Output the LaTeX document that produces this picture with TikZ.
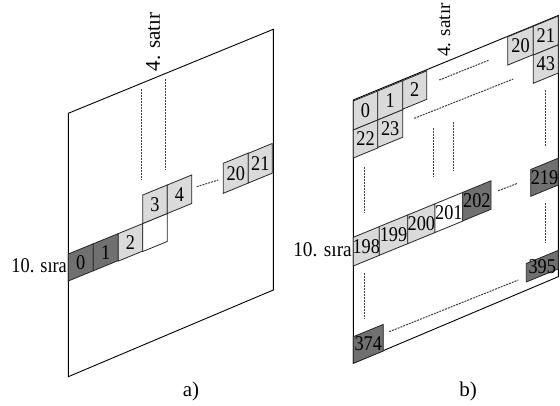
\documentclass[tikz,border=0pt]{standalone}
\usepackage{fontspec}
\setmainfont{Liberation Serif}
\definecolor{darkcell}{RGB}{112,112,112}
\definecolor{lightcell}{RGB}{218,218,218}
\newcommand{\sqz}[1]{\scalebox{0.87}[1]{#1}}
\tikzset{
  frameline/.style={line width=0.9pt, draw=black},
  cellbox/.style={line width=0.8pt, draw=black!85},
  celltxt/.style={inner sep=0pt, font=\fontsize{21}{21}\selectfont},
  lbl/.style={inner sep=0pt, font=\fontsize{21}{21}\selectfont},
  dotline/.style={line width=1pt, draw=black!75, dash pattern=on 2pt off 1pt},
}
% name, x, y (top-left), width, height, fill, text
\newcommand{\pcell}[7]{%
  \filldraw[cellbox, fill=#6] (#2,#3) -- ++(#4,{-0.41*#4}) -- ++(0,#5) -- ++({-#4},{0.41*#4}) -- cycle;
  \node[celltxt] (#1) at ({#2+#4/2},{#3-0.205*#4+#5/2}) {\sqz{#7}};
}
\begin{document}
\begin{tikzpicture}[x=1pt,y=-1pt]
\useasboundingbox[fill=white] (0,0) rectangle (560,406);
% ---------------- panel a ----------------
\draw[frameline] (68.3,113.3) -- (273.3,29.3) -- (273.3,290) -- (68.3,376.7) -- cycle;
\pcell{a0}{68.3}{254}{25}{27}{darkcell}{0}
\pcell{a1}{93.3}{243.8}{25}{27}{darkcell}{1}
\pcell{a2}{118.3}{233.6}{24.5}{27.5}{lightcell}{2}
\pcell{aE}{142.8}{223.5}{24.5}{28}{white}{}
\pcell{a3}{142.8}{195}{24.5}{28.5}{lightcell}{3}
\pcell{a4}{167.3}{185}{24.5}{28.5}{lightcell}{4}
\pcell{a20}{223.3}{163.3}{25}{30}{lightcell}{20}
\pcell{a21}{248.3}{153.3}{24}{29.7}{lightcell}{21}
\draw[dotline] (141.7,89) -- (141.7,180);
\draw[dotline] (165,79) -- (165,170);
\draw[dotline] (196.7,186.7) -- (218.3,180);
\node[lbl, rotate=90] (satirA) at (153,42) {4. satır};
\node[lbl, anchor=base east] (siraA) at (67,273) {\sqz{10. sıra}};
\node[lbl, anchor=base] (capA) at (191,396) {a)};
% ---------------- panel b ----------------
\draw[frameline] (353.3,100) -- (558.3,15.5) -- (558.3,276.7) -- (353.3,363.3) -- cycle;
\pcell{b0}{353.3}{101}{24.4}{29}{lightcell}{0}
\pcell{b1}{377.7}{91}{25}{29}{lightcell}{1}
\pcell{b2}{402.7}{80.7}{24}{28.5}{lightcell}{2}
\pcell{b22}{353.3}{130}{24.4}{28}{lightcell}{22}
\pcell{b23}{377.7}{120}{25}{27.5}{lightcell}{23}
\pcell{b20}{507.7}{36.8}{25.6}{28.3}{lightcell}{20}
\pcell{b21}{533.3}{26.3}{25}{28.8}{lightcell}{21}
\pcell{b43}{533.3}{55.1}{25}{28.2}{lightcell}{43}
\pcell{b198}{353.3}{237.3}{26}{28.7}{lightcell}{198}
\pcell{b199}{379.3}{226.6}{28.4}{28.7}{lightcell}{199}
\pcell{b200}{407.7}{215}{27.3}{28.7}{lightcell}{200}
\pcell{b201}{435}{203.8}{27.7}{28.7}{white}{201}
\pcell{b202}{462.7}{192.4}{28.3}{28.5}{darkcell}{202}
\pcell{b219}{530.7}{169.5}{27.6}{26.8}{darkcell}{219}
\pcell{b395}{526.3}{263.5}{32}{18.5}{darkcell}{395}
\pcell{b374}{353.3}{336.7}{30}{26.6}{darkcell}{374}
\draw[dotline] (439.3,80) -- (489.3,60);
\draw[dotline] (414.3,118.3) -- (513.3,79);
\draw[dotline] (433.3,128.3) -- (433.3,176.7);
\draw[dotline] (453.3,121.7) -- (453.3,170.7);
\draw[dotline] (545,90) -- (545,146.7);
\draw[dotline] (364.3,166.7) -- (364.3,213.3);
\draw[dotline] (364.3,273) -- (364.3,318.3);
\draw[dotline] (545,203.3) -- (545,243.3);
\draw[dotline] (498.3,190.7) -- (517.7,183.3);
\draw[dotline] (389.3,331.7) -- (518.3,280);
\node[lbl, rotate=90, font=\fontsize{19}{19}\selectfont] (satirB) at (444,30) {4. satır};
\node[lbl, anchor=base east] (siraB) at (352,256.5) {\scalebox{0.92}[1]{10. sıra}};
\node[lbl, anchor=base] (capB) at (468,396) {b)};
\end{tikzpicture}
\end{document}
